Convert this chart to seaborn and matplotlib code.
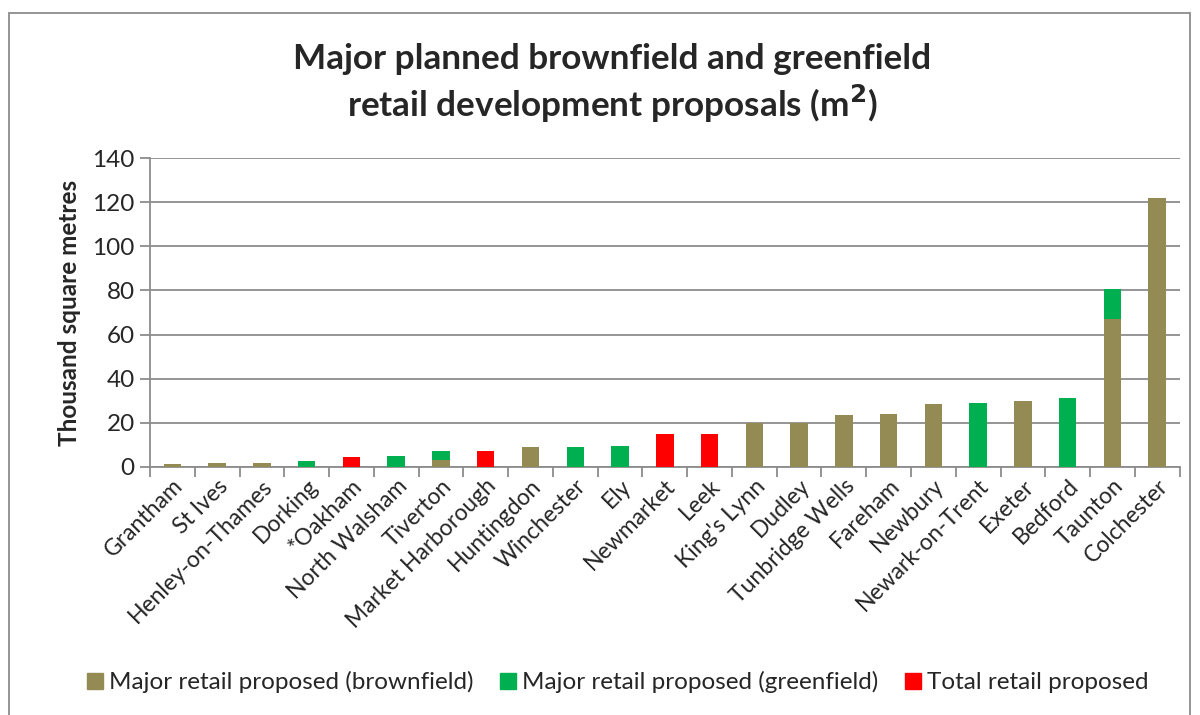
import numpy as np
import pandas as pd
import matplotlib
matplotlib.use("Agg")
import matplotlib.pyplot as plt
from matplotlib.lines import Line2D
from matplotlib.patches import Rectangle
import seaborn as sns

# Towns, ordered by size of proposal
towns = ["Grantham", "St Ives", "Henley-on-Thames", "Dorking", "*Oakham",
         "North Walsham", "Tiverton", "Market Harborough", "Huntingdon",
         "Winchester", "Ely", "Newmarket", "Leek", "King's Lynn", "Dudley",
         "Tunbridge Wells", "Fareham", "Newbury", "Newark-on-Trent", "Exeter",
         "Bedford", "Taunton", "Colchester"]

# Thousand square metres
brownfield = [1.4, 1.8, 1.8, 0, 0, 0, 3.2, 0, 8.9, 0, 0, 0, 0, 19.8, 19.8,
              23.6, 23.9, 28.4, 0, 29.9, 0, 67.2, 122.0]
greenfield = [0, 0, 0, 2.6, 0, 4.8, 4.0, 0, 0, 8.9, 9.4, 0, 0, 0, 0,
              0, 0, 0, 28.8, 0, 31.1, 13.5, 0]
total_only = [0, 0, 0, 0, 4.7, 0, 0, 7.4, 0, 0, 0, 15.0, 15.0, 0, 0,
              0, 0, 0, 0, 0, 0, 0, 0]

series_names = ["Major retail proposed (brownfield)",
                "Major retail proposed (greenfield)",
                "Total retail proposed"]
colors = ["#948A54", "#00B050", "#FF0000"]

df = pd.DataFrame({"town": towns, "brown": brownfield,
                   "green": greenfield, "red": total_only})
df["stack_green"] = df["brown"] + df["green"]
df["stack_red"] = df["stack_green"] + df["red"]

sns.set_theme(style="white")
plt.rcParams["font.family"] = ["Lato", "DejaVu Sans"]

fig = plt.figure(figsize=(12, 7.15), dpi=100)
ax = fig.add_axes([0.125, 0.347, 0.858, 0.432])

bar_w = 0.39
# stacked bars: draw tallest layer first, lower layers over it
sns.barplot(data=df, x="town", y="stack_red", color=colors[2], width=bar_w,
            saturation=1, linewidth=0, ax=ax, zorder=3)
sns.barplot(data=df, x="town", y="stack_green", color=colors[1], width=bar_w,
            saturation=1, linewidth=0, ax=ax, zorder=3)
sns.barplot(data=df, x="town", y="brown", color=colors[0], width=bar_w,
            saturation=1, linewidth=0, ax=ax, zorder=3)

ax.set_ylim(0, 140)
ax.set_xlim(-0.5, len(towns) - 0.5)
ax.set_yticks(np.arange(0, 141, 20))
ax.yaxis.grid(True, color="#8c8c8c", linewidth=1.3, zorder=0)
ax.set_axisbelow(True)
for s in ["top", "right"]:
    ax.spines[s].set_visible(False)
for s in ["left", "bottom"]:
    ax.spines[s].set_color("#8c8c8c")
    ax.spines[s].set_linewidth(1.3)

ax.set_xticks(np.arange(len(towns) + 1) - 0.5, minor=True)
ax.tick_params(axis="x", which="minor", length=7, width=1.3, color="#8c8c8c",
               direction="out", bottom=True)
ax.tick_params(axis="x", which="major", length=0, pad=6)
ax.tick_params(axis="y", length=7, width=1.3, color="#8c8c8c", left=True,
               labelsize=17.5, pad=4)
ax.set_xticklabels(towns, rotation=45, ha="right", rotation_mode="anchor",
                   fontsize=16.5)
ax.set_xlabel("")
ax.set_ylabel("Thousand square metres", fontsize=17.5, fontweight="bold",
              labelpad=8)

fig.text(0.51, 0.918, "Major planned brownfield and greenfield",
         ha="center", va="center", fontsize=25.3, fontweight="bold")
fig.text(0.51, 0.855, "retail development proposals (m$^\\mathbf{2}$)",
         ha="center", va="center", fontsize=25.3, fontweight="bold")

handles = [Line2D([0], [0], marker="s", linestyle="none", markersize=11,
                  markerfacecolor=c, markeredgecolor=c) for c in colors]
fig.legend(handles, series_names, loc="center", bbox_to_anchor=(0.513, 0.046),
           ncol=3, frameon=False, fontsize=17.5, handletextpad=0.1,
           columnspacing=0.9, handlelength=1.0)

# outer chart frame
fig.add_artist(Rectangle((9 / 1200, -0.01), 1181 / 1200, 1 - 13 / 715 + 0.01,
                         transform=fig.transFigure, fill=False,
                         edgecolor="#8c8c8c", linewidth=1.3))

fig.savefig("out.png", dpi=100)
